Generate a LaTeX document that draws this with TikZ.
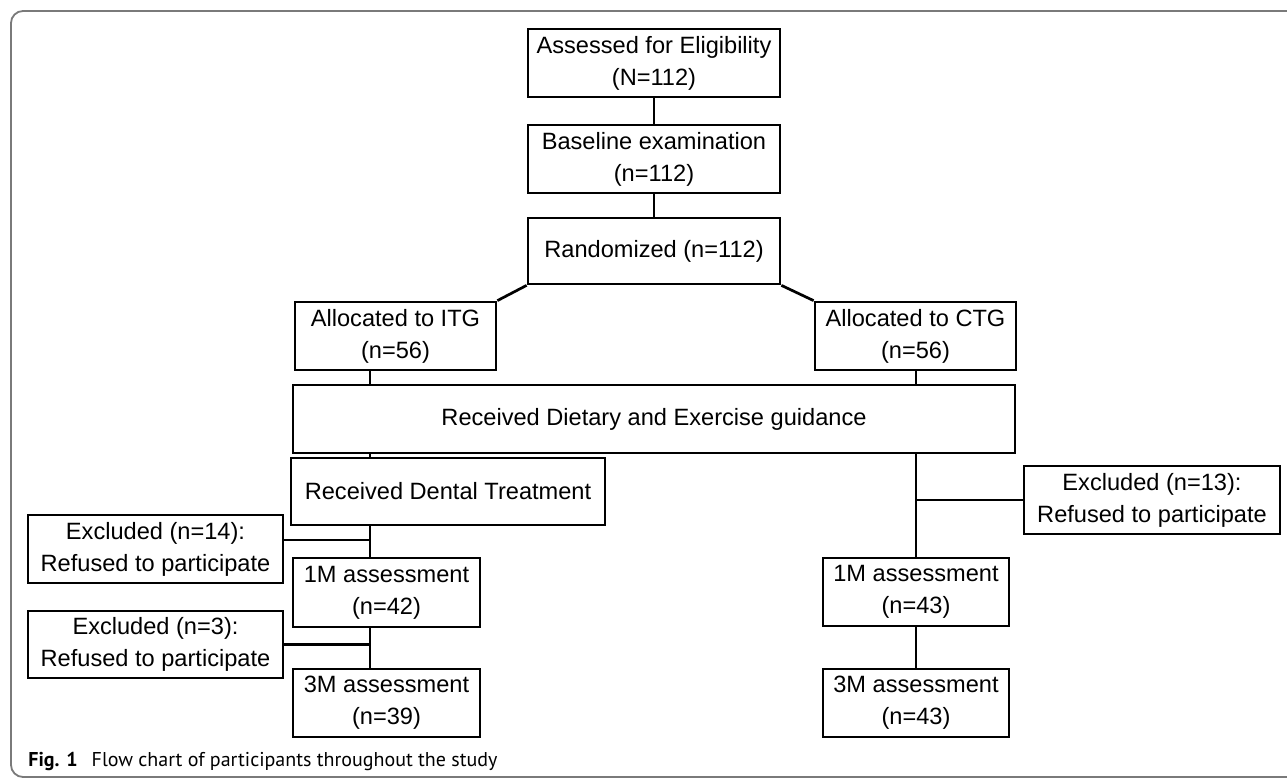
\documentclass[tikz,border=0pt]{standalone}
\usepackage{fontspec}
\setmainfont{Liberation Sans}
\newfontfamily\capfont{PT Sans}
\definecolor{framegray}{HTML}{7A7A7A}
\begin{document}
\begin{tikzpicture}[x=0.5pt,y=-0.5pt,
  box/.style={draw=black, line width=1.35pt, align=center, inner sep=0pt,
    font=\fontsize{11.8}{16}\selectfont},
  conn/.style={draw=black, line width=1.35pt}]
\useasboundingbox (0,0) rectangle (1287,780);
% outer frame (open to the right)
\draw[framegray, line width=0.9pt, rounded corners=6pt] (1300,11) -- (11,11) -- (11,777) -- (1300,777);

% nodes
\node[box, minimum width=126pt, minimum height=34pt] (b1) at (654,63) {Assessed for Eligibility\\(N=112)};
\node[box, minimum width=126pt, minimum height=34pt] (b2) at (654,159) {Baseline examination\\(n=112)};
\node[box, minimum width=126pt, minimum height=33pt] (rand) at (654,251) {Randomized (n=112)};
\node[box, minimum width=100.5pt, minimum height=34pt] (itg) at (395.5,336) {Allocated to ITG\\(n=56)};
\node[box, minimum width=100.5pt, minimum height=34pt] (ctg) at (915.5,336) {Allocated to CTG\\(n=56)};
\node[box, minimum width=361pt, minimum height=34pt] (diet) at (654,419) {Received Dietary and Exercise guidance};
\node[box, minimum width=157pt, minimum height=33.5pt] (dental) at (448,491.5) {Received Dental Treatment};
\node[box, minimum width=127.5pt, minimum height=34pt] (exc14) at (155.5,549) {Excluded (n=14):\\Refused to participate};
\node[box, minimum width=93.5pt, minimum height=34.5pt] (l1m) at (386.5,592.5) {1M assessment\\(n=42)};
\node[box, minimum width=127.5pt, minimum height=33.5pt] (exc3) at (155.5,644.5) {Excluded (n=3):\\Refused to participate};
\node[box, minimum width=93.5pt, minimum height=34pt] (l3m) at (386.5,703) {3M assessment\\(n=39)};
\node[box, minimum width=128pt, minimum height=34pt] (exc13) at (1152,500) {Excluded (n=13):\\Refused to participate};
\node[box, minimum width=93pt, minimum height=34pt] (r1m) at (916,592) {1M assessment\\(n=43)};
\node[box, minimum width=93pt, minimum height=34pt] (r3m) at (916,703) {3M assessment\\(n=43)};

% caption
\node[anchor=west, inner sep=0pt, font=\capfont\fontsize{10}{12}\selectfont] (cap) at (28,762)
  {\textbf{Fig. 1}\hspace{7pt}Flow chart of participants throughout the study};

% connectors
\coordinate (L) at (370,0);
\coordinate (R) at (916,0);
\coordinate (J14) at (370,540);
\draw[conn] (b1) -- (b2);
\draw[conn] (b2) -- (rand);
\draw[conn] (rand.south west) -- (itg.north east);
\draw[conn] (rand.south east) -- (ctg.north west);
\draw[conn] (itg.south -| L) -- (diet.north -| L);
\draw[conn] (ctg.south -| R) -- (diet.north -| R);
\draw[conn] (diet.south -| L) -- (dental.north -| L);
\draw[conn] (diet.south -| R) -- (r1m.north -| R);
\draw[conn] (exc13.west) -- (exc13.west -| R);
\draw[conn] (dental.south -| L) -- (l1m.north -| L);
\draw[conn] (J14) -- (J14 -| exc14.east);
\draw[conn] (l1m.south -| L) -- (l3m.north -| L);
\draw[conn] (exc3.east) -- (exc3.east -| L);
\draw[conn] (r1m) -- (r3m);
\end{tikzpicture}
\end{document}
